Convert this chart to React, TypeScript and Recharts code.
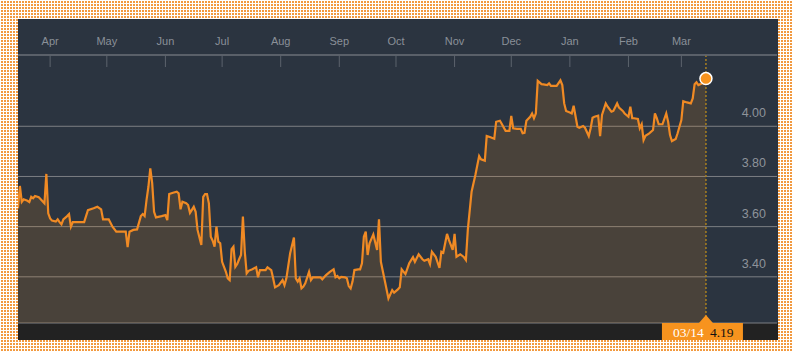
import {
  Area,
  CartesianGrid,
  ComposedChart,
  ReferenceDot,
  ReferenceLine,
  XAxis,
  YAxis,
} from "recharts";

// days counted from 15 Mar of the previous year, last point is 03/14
const monthLabels = ["Apr", "May", "Jun", "Jul", "Aug", "Sep", "Oct", "Nov", "Dec", "Jan", "Feb", "Mar"];
const monthTicks = [17, 47, 78, 108, 139, 170, 200, 231, 261, 292, 323, 351];
const priceTicks = [3.4, 3.6, 3.8, 4.0];

const days = [
  0, 1, 2, 3, 5, 6, 7, 8, 9, 11, 12, 14, 15, 16, 17, 18, 20, 21, 22, 23, 24, 26, 27, 28, 29, 31, 35, 37, 40,
  42, 44, 45, 48, 50, 52, 57, 58, 59, 61, 63, 65, 66, 67, 68, 69, 70, 71, 72, 73, 76, 78, 79, 80, 82, 84, 85,
  86, 87, 89, 90, 91, 93, 94, 95, 97, 98, 99, 100, 101, 102, 103, 104, 105, 106, 107, 108, 110, 111, 112, 113,
  114, 115, 116, 117, 118, 119, 120, 121, 122, 124, 126, 127, 128, 131, 132, 134, 135, 136, 138, 140, 141, 142,
  144, 146, 147, 148, 149, 150, 151, 152, 154, 155, 156, 159, 160, 161, 163, 165, 167, 168, 169, 170, 171, 173,
  174, 175, 176, 177, 178, 180, 181, 182, 183, 184, 185, 186, 188, 190, 191, 192, 194, 196, 198, 199, 201, 202,
  203, 205, 207, 209, 210, 212, 214, 215, 217, 218, 219, 221, 223, 224, 225, 227, 228, 230, 231, 232, 234, 236,
  237, 238, 240, 242, 244, 245, 247, 248, 250, 252, 253, 255, 256, 258, 260, 261, 262, 264, 266, 267, 268, 269,
  271, 272, 273, 274, 275, 277, 278, 280, 281, 282, 285, 287, 288, 289, 290, 292, 293, 294, 296, 297, 299, 300,
  302, 303, 304, 305, 307, 308, 309, 311, 312, 314, 315, 317, 318, 320, 321, 323, 324, 325, 326, 328, 329, 330,
  331, 332, 334, 336, 337, 338, 339, 341, 343, 344, 345, 346, 348, 349, 351, 352, 354, 356, 357, 358, 359, 360,
  362, 364,
];

const prices = [
  3.673, 3.762, 3.699, 3.709, 3.703, 3.698, 3.719, 3.713, 3.722, 3.717, 3.709, 3.693, 3.81, 3.653, 3.633, 3.624,
  3.62, 3.629, 3.618, 3.609, 3.629, 3.642, 3.65, 3.6, 3.618, 3.618, 3.618, 3.666, 3.673, 3.679, 3.669, 3.629,
  3.629, 3.6, 3.58, 3.58, 3.518, 3.58, 3.587, 3.589, 3.642, 3.65, 3.642, 3.706, 3.759, 3.832, 3.773, 3.659,
  3.637, 3.642, 3.646, 3.626, 3.73, 3.735, 3.739, 3.733, 3.669, 3.699, 3.693, 3.686, 3.655, 3.679, 3.659, 3.587,
  3.527, 3.719, 3.73, 3.73, 3.693, 3.56, 3.544, 3.52, 3.6, 3.54, 3.534, 3.46, 3.42, 3.394, 3.387, 3.51, 3.52,
  3.44, 3.451, 3.47, 3.487, 3.64, 3.5, 3.414, 3.424, 3.43, 3.438, 3.398, 3.427, 3.427, 3.438, 3.427, 3.394,
  3.358, 3.367, 3.387, 3.367, 3.394, 3.494, 3.557, 3.394, 3.381, 3.394, 3.354, 3.361, 3.374, 3.42, 3.387, 3.398,
  3.398, 3.398, 3.39, 3.407, 3.42, 3.43, 3.398, 3.403, 3.394, 3.4, 3.398, 3.394, 3.363, 3.354, 3.381, 3.427,
  3.43, 3.43, 3.454, 3.56, 3.58, 3.487, 3.534, 3.569, 3.507, 3.629, 3.46, 3.387, 3.314, 3.347, 3.337, 3.35,
  3.358, 3.43, 3.411, 3.454, 3.478, 3.46, 3.49, 3.47, 3.464, 3.47, 3.451, 3.5, 3.48, 3.436, 3.5, 3.496, 3.571,
  3.547, 3.507, 3.571, 3.48, 3.49, 3.478, 3.467, 3.587, 3.739, 3.806, 3.881, 3.868, 3.863, 3.961, 3.956, 3.95,
  4.018, 4.022, 4.009, 3.982, 3.982, 4.041, 3.992, 3.99, 3.99, 3.972, 3.974, 4.022, 4.038, 4.051, 4.032, 4.051,
  4.181, 4.168, 4.167, 4.164, 4.171, 4.161, 4.161, 4.183, 4.164, 4.091, 4.061, 4.055, 4.051, 4.082, 3.998,
  3.994, 4.001, 3.994, 3.961, 3.992, 4.034, 4.038, 4.042, 3.961, 4.045, 4.091, 4.078, 4.058, 4.061, 4.091,
  4.074, 4.061, 4.051, 4.038, 4.078, 4.032, 4.032, 4.029, 3.992, 4.008, 3.945, 3.962, 3.972, 3.985, 4.051,
  4.032, 4.008, 4.008, 4.051, 4.018, 3.965, 3.941, 3.949, 3.972, 4.025, 4.1, 4.095, 4.091, 4.111, 4.167, 4.175,
  4.164, 4.171, 4.19,
];

const lastDate = "03/14";
const lastDay = days[days.length - 1];
const lastPrice = prices[prices.length - 1];

const chartData = days.map((day, i) => ({ day, price: prices[i] }));

const ORANGE = "#f7931e";
const SANS = "'Liberation Sans', Arial, Helvetica, sans-serif";
const SERIF = "'Liberation Serif', 'Times New Roman', serif";

const MonthTick = (props: any) => {
  const { x, y, payload } = props;
  const label = monthLabels[monthTicks.indexOf(payload.value)];
  return (
    <g>
      <line x1={x} y1={y} x2={x} y2={y + 12} stroke="#5c636c" strokeWidth={1} />
      <text x={x} y={y - 10} textAnchor="middle" fill="#8a9098" fontSize={11} fontFamily={SANS}>
        {label}
      </text>
    </g>
  );
};

const PriceTick = (props: any) => {
  const { x, y, payload } = props;
  return (
    <text x={x - 11} y={y - 9} textAnchor="end" fill="#8e939a" fontSize={12.5} fontFamily={SANS}>
      {Number(payload.value).toFixed(2)}
    </text>
  );
};

// orange flag under the last point, with date and price
const LastFlag = (props: any) => {
  const { viewBox } = props;
  const cx = viewBox.x;
  const bottom = viewBox.y + viewBox.height;
  return (
    <g>
      <polygon points={`${cx - 7},${bottom} ${cx},${bottom - 8} ${cx + 7},${bottom}`} fill={ORANGE} />
      <rect x={cx - 44} y={bottom} width={81} height={17} fill={ORANGE} />
      <text x={cx - 33} y={bottom + 14} fill="#ffffff" fontSize={13.5} fontFamily={SERIF}>
        {lastDate}
      </text>
      <text x={cx + 4} y={bottom + 14} fill="#111111" fontSize={13.5} fontFamily={SERIF}>
        {lastPrice.toFixed(2)}
      </text>
    </g>
  );
};

export default function App() {
  return (
    <div
      style={{
        position: "absolute",
        left: 0,
        top: 0,
        width: 793,
        height: 352,
        backgroundColor: "#f29a40",
        backgroundImage:
          "linear-gradient(90deg, #ffffff 1px, transparent 1px), linear-gradient(#ffffff 1px, transparent 1px)",
        backgroundSize: "3px 3px",
      }}
    >
      <div
        style={{
          position: "absolute",
          left: 18,
          top: 19,
          width: 760,
          height: 321,
          background: "linear-gradient(#2b3440 0px, #2b3440 304px, #222222 304px)",
        }}
      >
        <ComposedChart width={760} height={321} data={chartData} margin={{ top: 0, right: 0, bottom: 17, left: 0 }}>
          <CartesianGrid vertical={false} stroke="#7c7f83" strokeWidth={1} />
          <XAxis
            dataKey="day"
            type="number"
            orientation="top"
            domain={[0, 401.6]}
            ticks={monthTicks}
            interval={0}
            height={36}
            allowDataOverflow
            axisLine={{ stroke: "#5c636c", strokeWidth: 1.5 }}
            tickLine={false}
            tickSize={0}
            tickMargin={0}
            tick={<MonthTick />}
          />
          <YAxis
            orientation="right"
            type="number"
            domain={[3.216, 4.284]}
            ticks={priceTicks}
            interval={0}
            width={1}
            allowDataOverflow
            axisLine={false}
            tickLine={false}
            tickSize={0}
            tickMargin={0}
            tick={<PriceTick />}
          />
          <Area
            type="linear"
            dataKey="price"
            stroke="#f08a24"
            strokeWidth={2.2}
            fill={ORANGE}
            fillOpacity={0.15}
            dot={false}
            activeDot={false}
            isAnimationActive={false}
          />
          <ReferenceLine
            x={lastDay}
            stroke="#a98020"
            strokeWidth={1.5}
            strokeDasharray="2 2"
            label={<LastFlag />}
          />
          <ReferenceDot x={lastDay} y={lastPrice} r={6} fill={ORANGE} stroke="#ffffff" strokeWidth={1.5} />
        </ComposedChart>
      </div>
    </div>
  );
}
